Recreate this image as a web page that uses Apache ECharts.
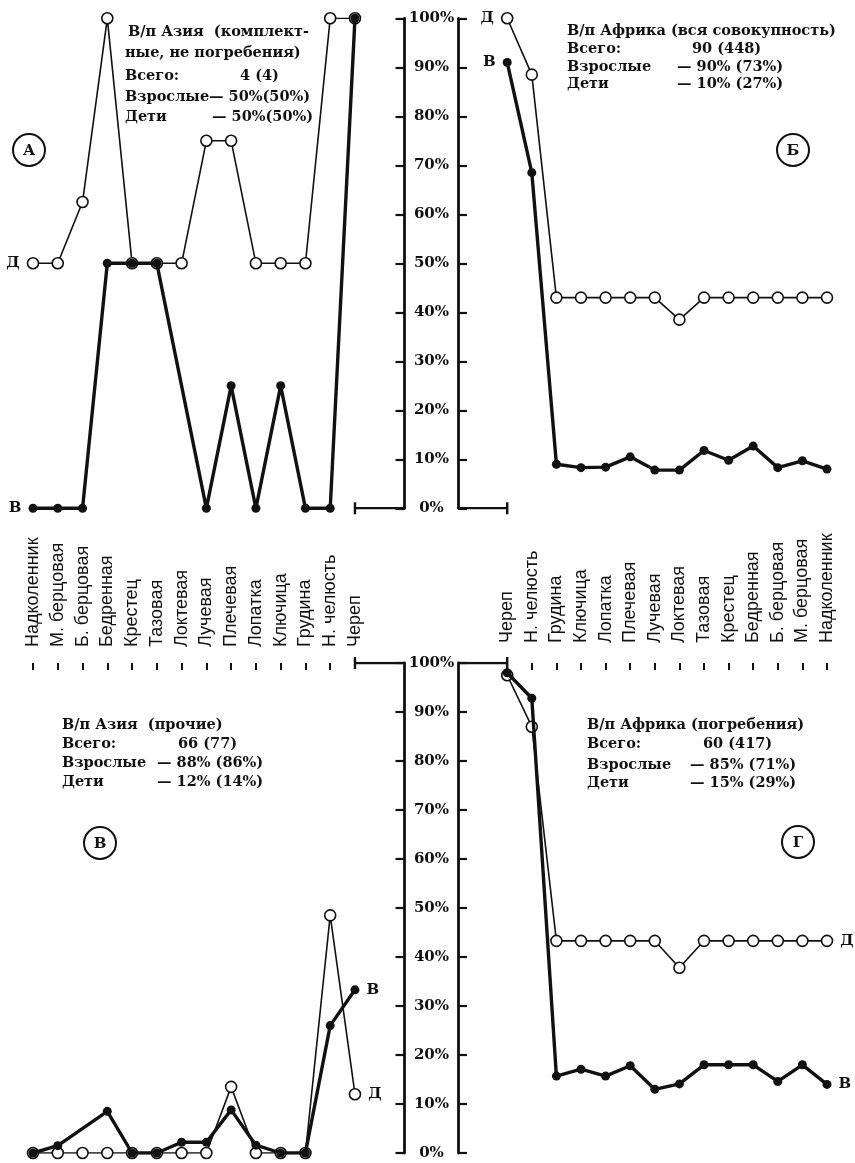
<!DOCTYPE html>
<html><head><meta charset="utf-8">
<script src="https://cdn.jsdelivr.net/npm/echarts@6/dist/echarts.min.js"></script>
<style>html,body{margin:0;padding:0;background:#fff}#c{width:855px;height:1163px}</style>
</head><body><div id="c"></div>
<script>
// ---- data (values in %, order: Надколенник ... Череп) ----
const categories = ['Надколенник','М. берцовая','Б. берцовая','Бедренная','Крестец','Тазовая','Локтевая','Лучевая','Плечевая','Лопатка','Ключица','Грудина','Н. челюсть','Череп'];
const percentTicks = [0,10,20,30,40,50,60,70,80,90,100];

// A: В/п Азия (комплектные, не погребения)
const asiaCompleteChildren = [50,50,62.5,100,50,50,50,75,75,50,50,50,100,100];
const asiaCompleteAdults   = [0,0,0,50,50,50,null,0,25,0,25,0,0,100];
// Б: В/п Африка (вся совокупность)
const africaAllChildren = [43,43,43,43,43,43,38.5,43,43,43,43,43,88.5,100];
const africaAllAdults   = [8.0,9.7,8.3,12.7,9.8,11.8,7.8,7.8,10.5,8.4,8.3,9.0,68.5,91];
// В: В/п Азия (прочие)
const asiaOtherChildren = [0,0,0,0,0,0,0,0,13.5,0,0,0,48.5,12];
const asiaOtherAdults   = [0,1.5,null,8.5,0,0,2.2,2.2,8.8,1.6,0,0,26,33.3];
// Г: В/п Африка (погребения)
const africaBurialChildren = [43.3,43.3,43.3,43.3,43.3,43.3,37.8,43.3,43.3,43.3,43.3,43.3,87,97.5];
const africaBurialAdults   = [14.0,18.0,14.6,18.0,18.0,18.0,14.1,13.0,17.8,15.7,17.1,15.7,92.8,98];

// ---- styling ----
const INK = '#111';
const SERIF = '"DejaVu Serif", serif';
const SANS = '"Liberation Sans", Arial, sans-serif';
const slots = categories.concat(['', ' ']);

const chart = echarts.init(document.getElementById('c'), null, {renderer:'canvas'});

const grids = [
  {left:33, top:18.3, width:371.5, height:490},
  {left:458, top:18.3, width:369, height:490},
  {left:33, top:663, width:371.5, height:490},
  {left:458, top:663, width:369, height:490}
].map(g => Object.assign({outerBoundsMode:'none', containLabel:false}, g));

function xAx(gi, inverse, show, margin) {
  return {
    gridIndex: gi, type:'category', data: slots, boundaryGap:false, inverse: inverse,
    show: show, position:'top',
    axisLine:{show:false, onZero:false},
    axisTick:{show:true, inside:true, length:7, lineStyle:{color:INK,width:2},
      interval:(i,v)=> String(v).trim()!=='' && i !== categories.length-1},
    axisLabel:{show:true, interval:0, rotate:-90, margin:margin, fontFamily:SANS, fontSize:18, color:INK},
    splitLine:{show:false}
  };
}
function yAx(gi, pos, showLabels) {
  return {
    gridIndex:gi, type:'value', min:percentTicks[0], max:percentTicks[percentTicks.length-1],
    interval:percentTicks[1]-percentTicks[0], position:pos,
    axisLine:{show:true, onZero:false, lineStyle:{color:INK,width:2.8}},
    axisTick:{show:true, inside:true, length:9, lineStyle:{color:INK,width:2.2}},
    axisLabel:{show:showLabels, formatter:'{value}%', align:'center', margin:27,
      fontFamily:SERIF, fontWeight:'bold', fontSize:15, color:INK},
    splitLine:{show:false}
  };
}
const endLabelStyle = {fontFamily:SERIF, fontWeight:'bold', fontSize:15, color:INK, distance:7};
function labeled(arr, idx, text, pos) {
  return arr.map((v,i)=> i===idx ? {value:v, label:Object.assign({show:true, formatter:text, position:pos}, endLabelStyle)} : v);
}
function childSeries(gi, data) {
  return {type:'line', xAxisIndex:gi, yAxisIndex:gi, data:data, showAllSymbol:true, connectNulls:true,
    symbol:'circle', symbolSize:11, lineStyle:{color:INK,width:1.6},
    itemStyle:{color:'#fff', borderColor:INK, borderWidth:1.6}, z:3, animation:false, silent:true};
}
function adultSeries(gi, data) {
  return {type:'line', xAxisIndex:gi, yAxisIndex:gi, data:data, showAllSymbol:true, connectNulls:true,
    symbol:'circle', symbolSize:9, lineStyle:{color:INK,width:3.4},
    itemStyle:{color:INK, borderWidth:0}, z:4, animation:false, silent:true};
}
function frameSeries(gi, yv) {
  return {type:'line', xAxisIndex:gi, yAxisIndex:gi,
    data:[{value:[categories.length-1, yv], symbol:'rect', symbolSize:[2.4,12]},
          {value:[slots.length-1, yv], symbol:'none'}],
    lineStyle:{color:INK,width:2.6}, itemStyle:{color:INK}, z:2, animation:false, silent:true};
}

const notes = [
  // A
  [128,32,'В/п Азия  (комплект-'],[125,53,'ные, не погребения)'],
  [125,76,'Всего:'],[240,76,'4 (4)'],
  [125,97,'Взрослые'],[209,97,'— 50%(50%)'],
  [125,117,'Дети'],[212,117,'— 50%(50%)'],
  // Б
  [567,31,'В/п Африка (вся совокупность)'],
  [567,49,'Всего:'],[692,49,'90 (448)'],
  [567,67,'Взрослые'],[677,67,'— 90% (73%)'],
  [567,84,'Дети'],[677,84,'— 10% (27%)'],
  // В
  [62,725,'В/п Азия  (прочие)'],
  [62,744,'Всего:'],[178,744,'66 (77)'],
  [62,763,'Взрослые'],[157,763,'— 88% (86%)'],
  [62,782,'Дети'],[157,782,'— 12% (14%)'],
  // Г
  [587,725,'В/п Африка (погребения)'],
  [587,744,'Всего:'],[703,744,'60 (417)'],
  [587,765,'Взрослые'],[690,765,'— 85% (71%)'],
  [587,783,'Дети'],[690,783,'— 15% (29%)']
];
const badges = [[29,150,'А'],[793,150,'Б'],[100,843,'В'],[798,842,'Г']];

const graphic = [];
notes.forEach(n => graphic.push({type:'text', x:n[0], y:n[1], silent:true,
  style:{text:n[2], fill:INK, font:'bold 14.5px "DejaVu Serif", serif', verticalAlign:'middle', align:'left'}}));
badges.forEach(b => {
  graphic.push({type:'circle', shape:{cx:b[0], cy:b[1], r:16}, silent:true,
    style:{fill:'#fff', stroke:INK, lineWidth:2}});
  graphic.push({type:'text', x:b[0], y:b[1]+1, silent:true,
    style:{text:b[2], fill:INK, font:'bold 15px "DejaVu Serif", serif', verticalAlign:'middle', align:'center'}});
});

chart.setOption({
  animation:false,
  backgroundColor:'#fff',
  grid: grids,
  xAxis: [xAx(0,false,false,16), xAx(1,true,false,16), xAx(2,false,true,16), xAx(3,true,true,20)],
  yAxis: [yAx(0,'right',true), yAx(1,'left',false), yAx(2,'right',true), yAx(3,'left',false)],
  series: [
    frameSeries(0,0), childSeries(0, labeled(asiaCompleteChildren,0,'Д','left')), adultSeries(0, labeled(asiaCompleteAdults,0,'В','left')),
    frameSeries(1,0), childSeries(1, labeled(africaAllChildren,13,'Д','left')), adultSeries(1, labeled(africaAllAdults,13,'В','left')),
    frameSeries(2,100), childSeries(2, labeled(asiaOtherChildren,13,'Д','right')), adultSeries(2, labeled(asiaOtherAdults,13,'В','right')),
    frameSeries(3,100), childSeries(3, labeled(africaBurialChildren,0,'Д','right')), adultSeries(3, labeled(africaBurialAdults,0,'В','right'))
  ],
  graphic: graphic
});
</script></body></html>
